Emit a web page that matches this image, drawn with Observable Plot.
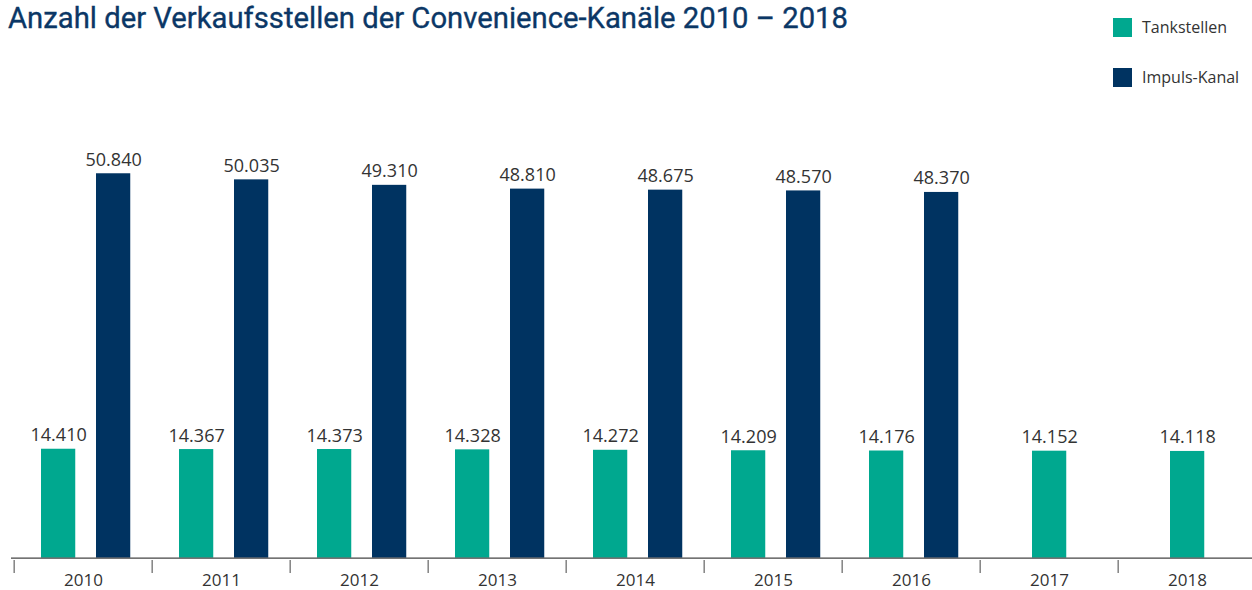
<!DOCTYPE html>
<html>
<head>
<meta charset="utf-8">
<script src="https://cdn.jsdelivr.net/npm/d3@7"></script>
<script src="https://cdn.jsdelivr.net/npm/@observablehq/plot@0.6"></script>
<style>
  html, body { margin: 0; padding: 0; background: #fff; overflow: hidden; }
  #wrap { position: relative; width: 1252px; height: 590px; font-family: "Open Sans", sans-serif; }
  #title { position: absolute; left: 8px; top: 0; font-family: Roboto, "Open Sans", sans-serif; font-weight: 400; font-size: 30px; line-height: normal; color: #0b3766; white-space: nowrap; transform-origin: left top; -webkit-text-stroke: 0.35px #0b3766; }
  .leg { position: absolute; left: 1113px; display: flex; align-items: center; font-size: 16px; color: #333; }
  .sw { width: 19px; height: 19px; margin-right: 10px; }
  #chart { position: absolute; left: 0; top: 40px; }
</style>
</head>
<body>
<div id="wrap">
  <div id="title">Anzahl der Verkaufsstellen der Convenience-Kanäle 2010 – 2018</div>
  <div class="leg" style="top:16px"><div class="sw" style="background:#00a88f"></div><span>Tankstellen</span></div>
  <div class="leg" style="top:66px"><div class="sw" style="background:#003361"></div><span>Impuls-Kanal</span></div>
  <div id="chart"></div>
</div>
<script>
const years = ["2010", "2011", "2012", "2013", "2014", "2015", "2016", "2017", "2018"];
const tankstellen = [14410, 14367, 14373, 14328, 14272, 14209, 14176, 14152, 14118];
const impuls = [50840, 50035, 49310, 48810, 48675, 48570, 48370, null, null];
const seriesNames = ["Tankstellen", "Impuls-Kanal"];
const colors = ["#00a88f", "#003361"];

const fmt = d3.formatLocale({decimal: ",", thousands: ".", grouping: [3], currency: ["", " €"]}).format(",d");

const rows = years.map((y, i) => ({year: y, t: tankstellen[i], imp: impuls[i]}));
const paired = rows.filter(r => r.imp != null);
const alone = rows.filter(r => r.imp == null);

const width = 1252, height = 550;
const marginLeft = 11, marginRight = -7.75;
const step = (width - marginLeft - marginRight) / years.length;

const plot = Plot.plot({
  width, height,
  marginLeft, marginRight,
  marginTop: 64, marginBottom: 30,
  style: {fontFamily: "Open Sans, sans-serif", color: "#333", background: "transparent"},
  x: {type: "band", domain: years, padding: 0, label: null},
  y: {domain: [0, 60000], axis: null, insetBottom: 2.3},
  marks: [
    Plot.barY(paired, {x: "year", y: "t", fill: colors[0], insetLeft: 27, insetRight: step - 62}),
    Plot.barY(paired, {x: "year", y: "imp", fill: colors[1], insetLeft: 82, insetRight: step - 117}),
    Plot.barY(alone, {x: "year", y: "t", fill: colors[0], insetLeft: 52, insetRight: step - 87}),
    Plot.text(paired, {x: "year", y: "t", text: d => fmt(d.t), dx: 44.5 - step / 2, dy: -8, lineAnchor: "bottom", fontSize: 18, fill: "#333"}),
    Plot.text(paired, {x: "year", y: "imp", text: d => fmt(d.imp), dx: 99.5 - step / 2, dy: -8, lineAnchor: "bottom", fontSize: 18, fill: "#333"}),
    Plot.text(alone, {x: "year", y: "t", text: d => fmt(d.t), dx: 69.5 - step / 2, dy: -8, lineAnchor: "bottom", fontSize: 18, fill: "#333"}),
    Plot.ruleY([0], {stroke: "#444", strokeWidth: 1.3}),
    Plot.axisX({tickSize: 13, tickFormat: () => "", dx: -step / 2, stroke: "#444"}),
    Plot.axisX({tickSize: 0, tickPadding: 13, fontSize: 17, fill: "#333"})
  ]
});
document.getElementById("chart").appendChild(plot);

// fit title width to reference
const t = document.getElementById("title");
const w = t.getBoundingClientRect().width;
t.style.transform = `scaleX(${840 / w})`;
</script>
</body>
</html>
